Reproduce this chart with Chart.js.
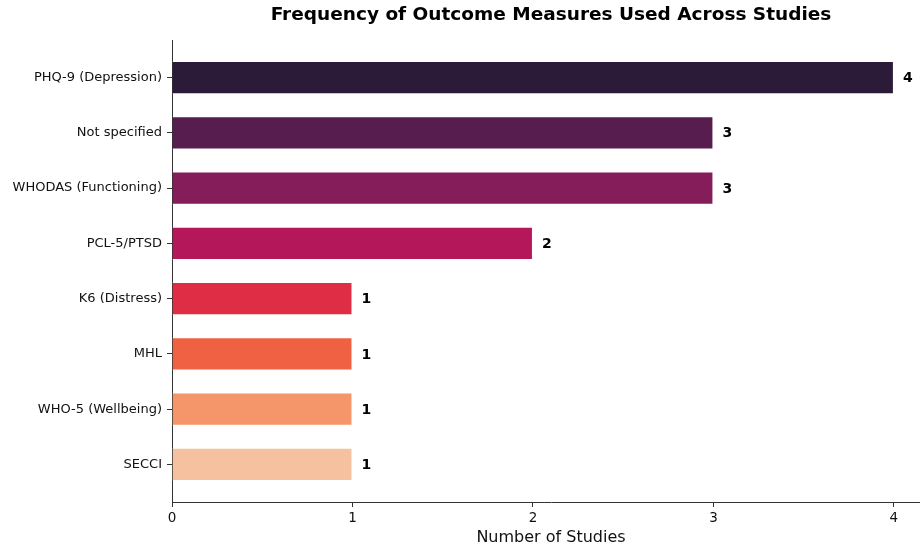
<!DOCTYPE html>
<html>
<head>
<meta charset="utf-8">
<script src="https://cdn.jsdelivr.net/npm/chart.js@4.4.1/dist/chart.umd.min.js"></script>
<style>
html,body{margin:0;padding:0;background:#fff;overflow:hidden;}
#wrap{width:930px;height:548px;}
</style>
</head>
<body>
<div id="wrap"><canvas id="c" width="930" height="548"></canvas></div>
<script>
const categories = ["PHQ-9 (Depression)", "Not specified", "WHODAS (Functioning)", "PCL-5/PTSD", "K6 (Distress)", "MHL", "WHO-5 (Wellbeing)", "SECCI"];
const counts = [4, 3, 3, 2, 1, 1, 1, 1];
const barColors = ["#2b1a38", "#561d4e", "#841d59", "#b4175a", "#de2d44", "#f06043", "#f4956a", "#f6c19f"];
const xTicks = [0, 1, 2, 3, 4];
const titleText = "Frequency of Outcome Measures Used Across Studies";
const xTitle = "Number of Studies";

const FONT = "'DejaVu Sans', sans-serif";

const titlePlugin = {
  id: 'topTitle',
  afterDraw(chart) {
    const ctx = chart.ctx, a = chart.chartArea;
    ctx.save();
    ctx.font = "bold 18.5px " + FONT;
    ctx.fillStyle = "#000";
    ctx.textAlign = "center";
    ctx.textBaseline = "middle";
    ctx.fillText(titleText, (a.left + a.right) / 2, 15);
    ctx.restore();
  }
};

const valueLabels = {
  id: 'valueLabels',
  afterDatasetsDraw(chart) {
    const ctx = chart.ctx;
    const meta = chart.getDatasetMeta(0);
    ctx.save();
    ctx.font = "bold 14px " + FONT;
    ctx.fillStyle = "#000";
    ctx.textAlign = "left";
    ctx.textBaseline = "middle";
    meta.data.forEach((el, i) => {
      ctx.fillText(String(counts[i]), el.x + 9, el.y + 1);
    });
    ctx.restore();
  }
};

new Chart(document.getElementById('c'), {
  type: 'bar',
  data: {
    datasets: [{
      data: counts.map((v, i) => ({ x: v, y: i })),
      backgroundColor: barColors,
      borderColor: 'rgba(255,255,255,0.7)',
      borderWidth: 1,
      barPercentage: 0.6,
      categoryPercentage: 1.0
    }]
  },
  options: {
    indexAxis: 'y',
    responsive: false,
    animation: false,
    devicePixelRatio: 1,
    layout: { padding: { top: 40, right: 0, bottom: 0, left: 0 } },
    plugins: { legend: { display: false }, tooltip: { enabled: false }, title: { display: false } },
    scales: {
      x: {
        type: 'linear',
        position: 'bottom',
        min: 0,
        max: 4.2,
        offset: false,
        afterBuildTicks(scale) { scale.ticks = xTicks.map(v => ({ value: v })); },
        afterFit(scale) { scale.height = 46; },
        grid: { drawOnChartArea: false, drawTicks: true, tickLength: 5, color: '#333', lineWidth: 1, offset: false },
        border: { display: true, color: '#333', width: 1 },
        ticks: { font: { family: FONT, size: 13.5 }, color: '#111', padding: 3, maxRotation: 0 },
        title: { display: true, text: xTitle, font: { family: FONT, size: 16 }, color: '#111', padding: { top: 0, bottom: 1 } }
      },
      y: {
        type: 'linear',
        position: 'left',
        reverse: true,
        min: -0.68,
        max: 7.68,
        offset: false,
        afterBuildTicks(scale) { scale.ticks = categories.map((c, i) => ({ value: i })); },
        afterFit(scale) { scale.width = 172; },
        grid: { drawOnChartArea: false, drawTicks: true, tickLength: 5, color: '#333', lineWidth: 1, offset: false },
        border: { display: true, color: '#333', width: 1 },
        ticks: {
          font: { family: FONT, size: 13 }, color: '#111', padding: 5,
          callback: (v) => categories[v]
        }
      }
    }
  },
  plugins: [titlePlugin, valueLabels]
});
</script>
</body>
</html>
